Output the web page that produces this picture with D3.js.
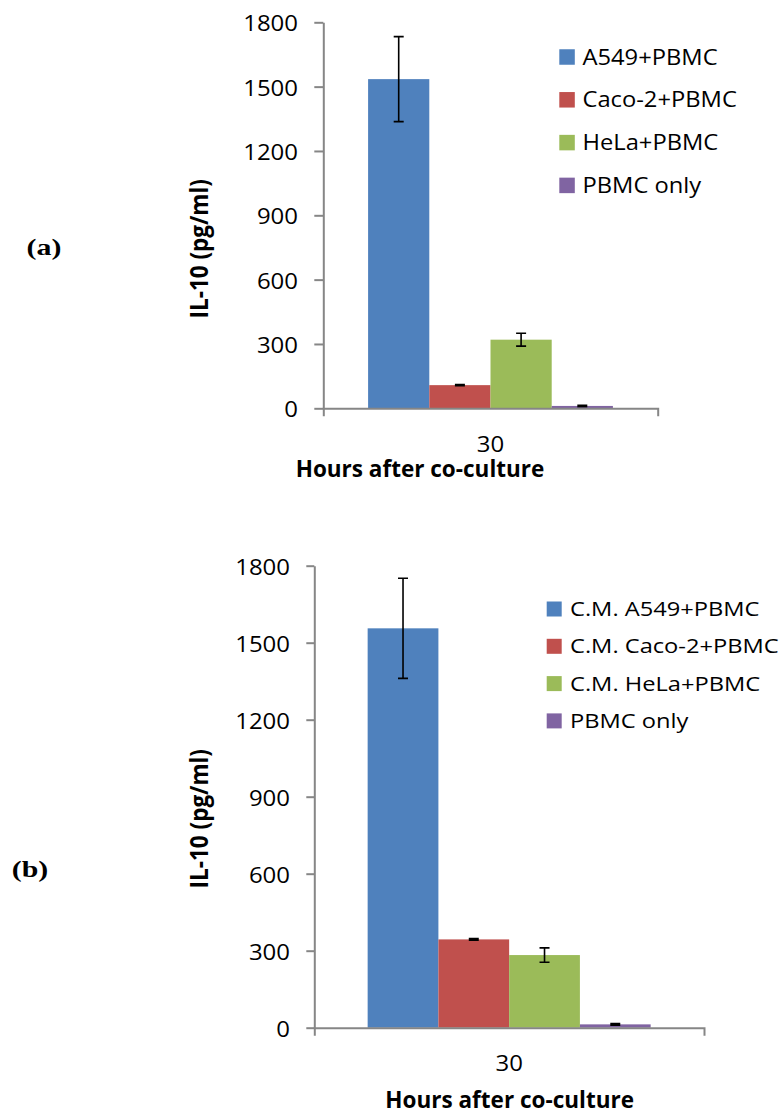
<!DOCTYPE html>
<html>
<head>
<meta charset="utf-8">
<script src="https://cdn.jsdelivr.net/npm/d3@7"></script>
<style>
  html, body { margin: 0; padding: 0; background: #fff; }
  svg { display: block; }
</style>
</head>
<body>
<svg id="chart" width="782" height="1114"></svg>
<script>
// ---- data ----
const hours = ["30"];
const yTicks = [0, 300, 600, 900, 1200, 1500, 1800];
const seriesA = ["A549+PBMC", "Caco-2+PBMC", "HeLa+PBMC", "PBMC only"];
const valuesA = [1535, 108, 320, 11];
const errorsA = [198, 3, 30, 3];
const seriesB = ["C.M. A549+PBMC", "C.M. Caco-2+PBMC", "C.M. HeLa+PBMC", "PBMC only"];
const valuesB = [1556, 344, 283, 13];
const errorsB = [195, 3, 28, 3];
const colors = ["#4F81BD", "#C0504D", "#9BBB59", "#8064A2"];

const axisGray = "#868686";
const sansFont = "'Open Sans', 'Liberation Sans', sans-serif";

const svg = d3.select("#chart");
svg.append("rect").attr("width", 782).attr("height", 1114).attr("fill", "#fff");

function drawPanel(cfg) {
  const g = svg.append("g");

  const x = d3.scaleBand().domain(hours).range([cfg.left, cfg.right])
    .paddingInner(0).paddingOuter(cfg.outerPad);
  const xs = d3.scaleBand().domain(cfg.series).range([0, x.bandwidth()]);
  const y = d3.scaleLinear().domain([0, 1800]).range([cfg.bottom, cfg.top]);

  const rows = cfg.series.map((s, i) => ({ s, v: cfg.values[i], e: cfg.errors[i], c: colors[i] }));

  // bars
  g.append("g").selectAll("rect").data(rows).join("rect")
    .attr("x", d => x(hours[0]) + xs(d.s))
    .attr("y", d => y(d.v))
    .attr("width", xs.bandwidth())
    .attr("height", d => y(0) - y(d.v))
    .attr("fill", d => d.c);

  // error bars
  const eb = g.append("g").attr("stroke", "#000").attr("stroke-width", 1.6).attr("fill", "none");
  const cx = d => x(hours[0]) + xs(d.s) + xs.bandwidth() / 2;
  eb.selectAll("path").data(rows).join("path")
    .attr("d", d => {
      const c = cx(d), t = y(d.v + d.e), b = y(d.v - d.e), w = 5;
      return `M${c},${t}V${b}M${c - w},${t}H${c + w}M${c - w},${b}H${c + w}`;
    });

  // y axis
  const ya = g.append("g")
    .attr("transform", `translate(${cfg.left},0)`)
    .call(d3.axisLeft(y).tickValues(yTicks).tickFormat(d3.format("d"))
      .tickSize(cfg.tickLen).tickSizeOuter(0));
  ya.attr("font-family", sansFont).attr("font-size", 22);
  ya.select(".domain").attr("stroke", axisGray).attr("stroke-width", 2);
  ya.selectAll(".tick line").attr("stroke", axisGray).attr("stroke-width", 2);
  ya.selectAll(".tick text")
    .attr("x", null).attr("dy", null).attr("fill", "#000")
    .attr("transform", `translate(${-cfg.labelGap},8.5) scale(1.09,1)`);

  // x axis
  const xa = g.append("g")
    .attr("transform", `translate(0,${cfg.bottom})`)
    .call(d3.axisBottom(x).tickSizeInner(0).tickSizeOuter(8));
  xa.attr("font-family", sansFont).attr("font-size", 22);
  xa.select(".domain").attr("stroke", axisGray).attr("stroke-width", 2);
  xa.selectAll(".tick line").remove();
  xa.selectAll(".tick text")
    .attr("y", null).attr("dy", null).attr("fill", "#000")
    .attr("transform", `translate(0,${cfg.catDrop}) scale(1.09,1)`);

  // axis titles
  g.append("text")
    .attr("transform", `translate(${(cfg.left + cfg.right) / 2 + cfg.xTitleShift},${cfg.xTitleY})`)
    .attr("text-anchor", "middle")
    .attr("font-family", sansFont).attr("font-weight", "bold").attr("font-size", 22.5)
    .text("Hours after co-culture");

  g.append("text")
    .attr("transform", `translate(208,${(cfg.top + cfg.bottom) / 2 + cfg.yTitleShift}) rotate(-90) scale(1,1.1)`)
    .attr("text-anchor", "middle")
    .attr("font-family", sansFont).attr("font-weight", "bold").attr("font-size", 22.5)
    .text("IL-10 (pg/ml)");

  // legend
  const lg = g.append("g");
  const items = lg.selectAll("g").data(rows).join("g")
    .attr("transform", (d, i) => `translate(${cfg.legendX},${cfg.legendY + i * cfg.legendStep})`);
  items.append("rect")
    .attr("x", 0).attr("y", -cfg.swatch / 2)
    .attr("width", cfg.swatch).attr("height", cfg.swatch)
    .attr("fill", d => d.c);
  items.append("text")
    .attr("transform", `translate(${cfg.legendTextX},${cfg.legendBase}) scale(${cfg.legendScale},1)`)
    .attr("font-family", sansFont).attr("font-size", cfg.legendFont)
    .text(d => d.s);

  // panel letter
  svg.append("text")
    .attr("transform", `translate(${cfg.tagX},${cfg.tagY}) scale(1.3,1)`)
    .attr("text-anchor", "middle")
    .attr("font-family", "'Liberation Serif', 'DejaVu Serif', serif")
    .attr("font-weight", "bold").attr("font-size", 23)
    .text(cfg.tag);
}

drawPanel({
  series: seriesA, values: valuesA, errors: errorsA,
  left: 323.3, right: 657.7, top: 22.3, bottom: 408.3, outerPad: 0.183,
  tickLen: 9, labelGap: 25.3, catDrop: 43.4,
  xTitleShift: -70.5, xTitleY: 476.5, yTitleShift: 33.5,
  legendX: 559.3, legendY: 57, legendStep: 42.8, swatch: 15.5,
  legendTextX: 23.2, legendBase: 7.5, legendFont: 21, legendScale: 1.13,
  tag: "(a)", tagX: 44, tagY: 255
});

drawPanel({
  series: seriesB, values: valuesB, errors: errorsB,
  left: 314.3, right: 704, top: 565.7, bottom: 1027.7, outerPad: 0.1885,
  tickLen: 8, labelGap: 24.3, catDrop: 43,
  xTitleShift: 0.5, xTitleY: 1108, yTitleShift: 22,
  legendX: 546.7, legendY: 609, legendStep: 37.3, swatch: 15,
  legendTextX: 23.3, legendBase: 7, legendFont: 20.5, legendScale: 1.155,
  tag: "(b)", tagX: 30, tagY: 877
});
</script>
</body>
</html>
